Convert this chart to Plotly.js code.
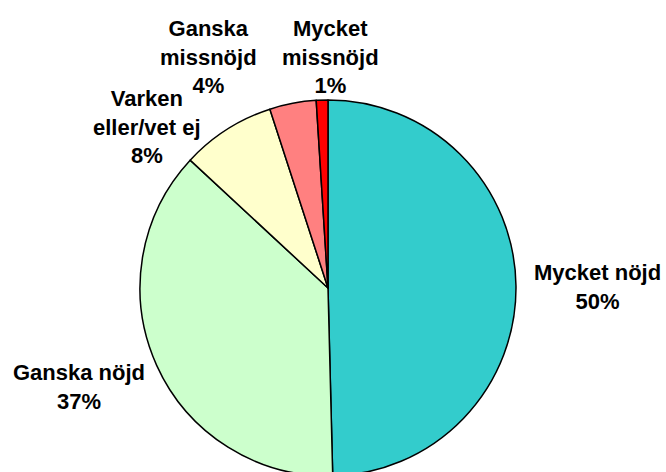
<!DOCTYPE html>
<html>
<head>
<meta charset="utf-8">
<script src="https://cdn.plot.ly/plotly-3.0.1.min.js"></script>
<style>
html, body { margin: 0; padding: 0; background: #ffffff; overflow: hidden; }
#chart { width: 666px; height: 480px; }
</style>
</head>
<body>
<div id="chart"></div>
<script>
// ---- data ----
const categories = ['Mycket nöjd', 'Ganska nöjd', 'Varken eller/vet ej', 'Ganska missnöjd', 'Mycket missnöjd'];
const labelLines = ['Mycket nöjd', 'Ganska nöjd', 'Varken<br>eller/vet ej', 'Ganska<br>missnöjd', 'Mycket<br>missnöjd'];
const values = [49.6, 37.3, 8.1, 4.0, 1.0];
const colors = ['#33CCCC', '#CCFFCC', '#FFFFCC', '#FF8080', '#FF0000'];

// ---- layout constants ----
const W = 666, H = 480;
const cx = 328, cy = 288, r = 188;
const labelPos = [[597, 287], [79, 387], [147, 127], [208, 57], [330, 57]];

const total = values.reduce((a, b) => a + b, 0);
const annotations = labelLines.map((t, i) => ({
  text: t + '<br>' + Math.round(values[i] / total * 100) + '%',
  xref: 'paper', yref: 'paper',
  x: labelPos[i][0] / W, y: 1 - labelPos[i][1] / H,
  xanchor: 'center', yanchor: 'middle', align: 'center',
  showarrow: false,
  font: { family: 'Liberation Sans, Arial, sans-serif', size: 22, color: '#000000', weight: 'bold' }
}));

const trace = {
  type: 'pie',
  labels: categories,
  values: values,
  sort: false,
  direction: 'clockwise',
  rotation: 0,
  textinfo: 'none',
  hoverinfo: 'none',
  marker: { colors: colors, line: { color: '#000000', width: 1.5 } },
  domain: { x: [(cx - r) / W, (cx + r) / W], y: [1 - (cy + r) / H, 1 - (cy - r) / H] }
};

const layout = {
  width: W, height: H,
  margin: { l: 0, r: 0, t: 0, b: 0 },
  paper_bgcolor: '#ffffff',
  showlegend: false,
  annotations: annotations
};

Plotly.newPlot('chart', [trace], layout, { displayModeBar: false, staticPlot: true });
</script>
</body>
</html>
